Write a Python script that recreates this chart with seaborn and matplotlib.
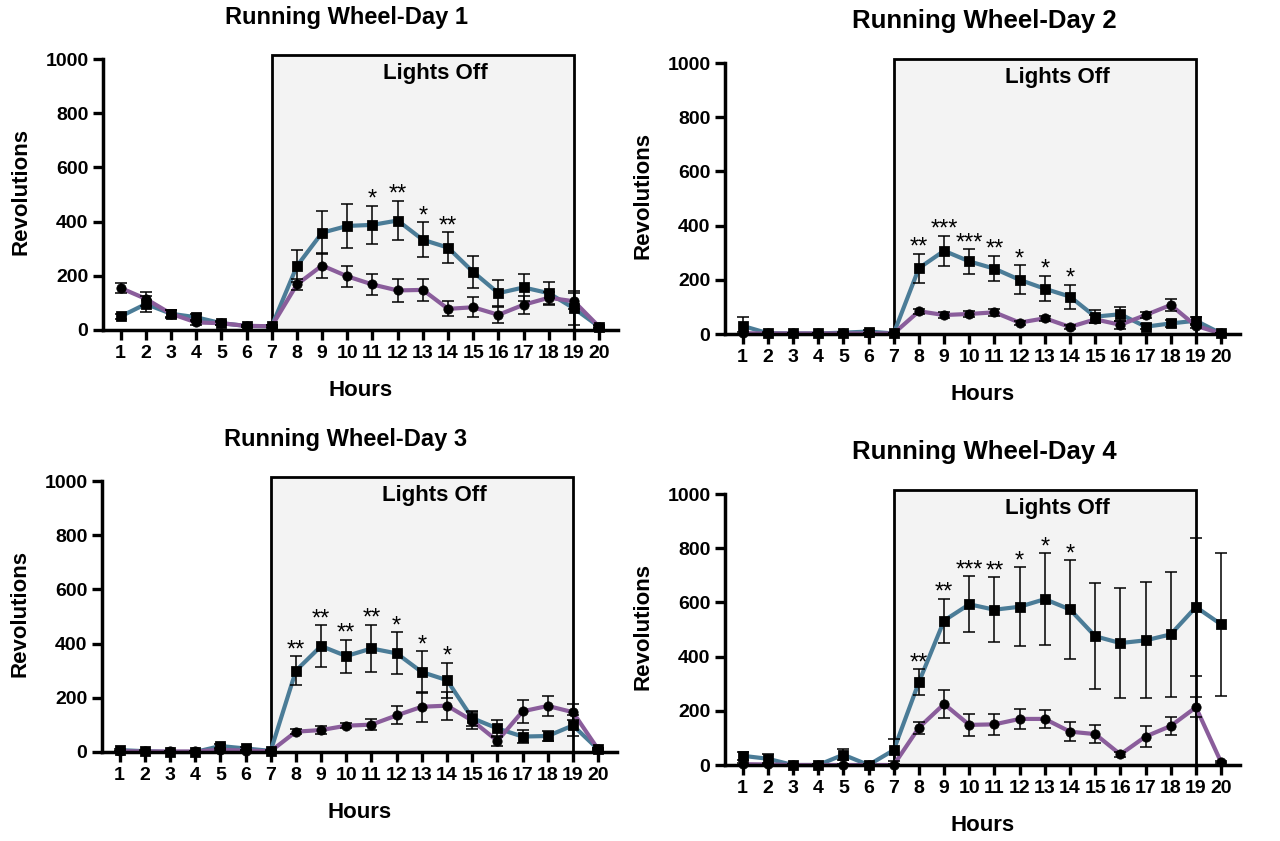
import matplotlib
matplotlib.use("Agg")
import matplotlib.pyplot as plt
import seaborn as sns
from matplotlib.patches import Rectangle

# ------------------------------
# Data (mean and SEM per hour)
# ------------------------------
hours = list(range(1, 21))

# Day 1
day1_sq = [50, 96, 60, 47, 25, 15, 14, 236, 359, 384, 388, 404, 333, 304, 214, 136, 157, 136, 80, 12]
day1_sq_err = [8, 28, 15, 12, 8, 5, 5, 58, 80, 80, 70, 73, 64, 56, 59, 48, 49, 42, 63, 5]
day1_ci = [155, 115, 60, 28, 25, 15, 14, 168, 238, 198, 168, 146, 148, 78, 84, 56, 93, 119, 106, 12]
day1_ci_err = [20, 26, 12, 8, 6, 4, 4, 20, 47, 38, 39, 42, 42, 28, 37, 30, 33, 23, 30, 4]
day1_star_hours = [11, 12, 13, 14]
day1_stars = ["*", "**", "*", "**"]

# Day 2
day2_sq = [30, 3, 2, 2, 5, 9, 2, 243, 307, 268, 241, 200, 167, 138, 64, 73, 27, 39, 49, 2]
day2_sq_err = [34, 4, 3, 3, 4, 5, 3, 53, 55, 45, 47, 54, 47, 44, 25, 25, 10, 12, 15, 2]
day2_ci = [3, 2, 2, 2, 2, 2, 2, 84, 70, 74, 80, 42, 58, 26, 54, 34, 70, 107, 30, 2]
day2_ci_err = [3, 2, 2, 2, 2, 2, 2, 10, 10, 10, 12, 7, 10, 6, 15, 15, 12, 22, 8, 2]
day2_star_hours = [8, 9, 10, 11, 12, 13, 14]
day2_stars = ["**", "***", "***", "**", "*", "*", "*"]

# Day 3
day3_sq = [7, 3, 0, 0, 22, 13, 4, 300, 391, 354, 382, 364, 295, 265, 125, 87, 57, 59, 98, 10]
day3_sq_err = [4, 3, 2, 2, 8, 6, 3, 53, 77, 61, 88, 77, 76, 65, 28, 30, 25, 18, 40, 4]
day3_ci = [3, 2, 2, 2, 8, 5, 3, 75, 81, 97, 101, 135, 167, 171, 116, 41, 150, 170, 147, 10]
day3_ci_err = [2, 2, 2, 2, 4, 3, 2, 10, 14, 10, 20, 33, 55, 52, 30, 18, 42, 38, 30, 4]
day3_star_hours = [8, 9, 10, 11, 12, 13, 14]
day3_stars = ["**", "**", "**", "**", "*", "*", "*"]

# Day 4
day4_sq = [34, 23, 0, 0, 38, 0, 55, 306, 533, 593, 573, 584, 612, 574, 475, 450, 460, 482, 583, 519]
day4_sq_err = [15, 17, 3, 3, 20, 3, 40, 48, 81, 104, 119, 145, 169, 182, 195, 202, 214, 231, 255, 263]
day4_ci = [3, 2, 0, 0, 0, 0, 0, 138, 225, 148, 150, 170, 170, 123, 114, 39, 105, 144, 213, 10]
day4_ci_err = [3, 3, 2, 2, 2, 2, 2, 22, 50, 40, 40, 36, 34, 36, 32, 10, 40, 32, 37, 4]
day4_star_hours = [8, 9, 10, 11, 12, 13, 14]
day4_stars = ["**", "**", "***", "**", "*", "*", "*"]

titles = ["Running Wheel-Day 1", "Running Wheel-Day 2", "Running Wheel-Day 3", "Running Wheel-Day 4"]
lights_on_off = (7, 19)

panels = [
    (day1_sq, day1_sq_err, day1_ci, day1_ci_err, day1_star_hours, day1_stars),
    (day2_sq, day2_sq_err, day2_ci, day2_ci_err, day2_star_hours, day2_stars),
    (day3_sq, day3_sq_err, day3_ci, day3_ci_err, day3_star_hours, day3_stars),
    (day4_sq, day4_sq_err, day4_ci, day4_ci_err, day4_star_hours, day4_stars),
]

# ------------------------------
# Style
# ------------------------------
sns.set_style("ticks")
plt.rcParams["font.family"] = ["Liberation Sans", "DejaVu Sans"]
plt.rcParams["text.color"] = "black"
plt.rcParams["axes.labelcolor"] = "black"
plt.rcParams["xtick.color"] = "black"
plt.rcParams["ytick.color"] = "black"

BLUE = "#4b7c97"
PURPLE = "#8a5d9b"

fig = plt.figure(figsize=(12.8, 8.41), dpi=100)

# pixel layout: left spine x, y of the zero line
layout = [(103, 330), (725, 334), (102, 752), (725, 765)]
title_x = [0.472, 0.504, 0.472, 0.504]
title_size = [17, 18.5, 17, 18.5]

for i, (sq, sq_err, ci, ci_err, star_hours, stars) in enumerate(panels):
    left, y0 = layout[i]
    ax = fig.add_axes([left / 1280, (841 - y0) / 841, 515 / 1280, 276.4 / 841])
    ax.set_xlim(0.3, 20.75)
    ax.set_ylim(0, 1020)

    # lights off box
    ax.add_patch(Rectangle((lights_on_off[0], 0), lights_on_off[1] - lights_on_off[0], 1015,
                           facecolor="#f3f3f3", edgecolor="black", lw=2, zorder=0, clip_on=False))
    ax.text(13.5, 948, "Lights Off", ha="center", va="center", fontsize=16, fontweight="bold")

    sns.lineplot(x=hours, y=sq, color=BLUE, lw=3, ax=ax, zorder=2, clip_on=False)
    sns.lineplot(x=hours, y=ci, color=PURPLE, lw=3, ax=ax, zorder=2, clip_on=False)
    ax.errorbar(hours, sq, yerr=sq_err, fmt="none", ecolor="black", elinewidth=1.1,
                capsize=4.5, capthick=1.1, zorder=3)
    ax.errorbar(hours, ci, yerr=ci_err, fmt="none", ecolor="black", elinewidth=1.1,
                capsize=4.5, capthick=1.1, zorder=3)
    sns.scatterplot(x=hours, y=sq, marker="s", s=48, color="black", edgecolor="black",
                    ax=ax, zorder=4, clip_on=False)
    sns.scatterplot(x=hours, y=ci, marker="o", s=45, color="black", edgecolor="black",
                    ax=ax, zorder=4, clip_on=False)

    # significance stars above the upper error bar
    for h, st in zip(star_hours, stars):
        k = h - 1
        ax.text(h, sq[k] + sq_err[k], st, ha="center", va="baseline", fontsize=17)

    ax.set_xticks(hours)
    ax.set_yticks(range(0, 1001, 200))
    ax.tick_params(labelsize=14, length=7, width=2.4, pad=3.5, color="black", labelcolor="black")
    for lab in ax.get_xticklabels() + ax.get_yticklabels():
        lab.set_fontweight("bold")

    sns.despine(ax=ax)
    ax.spines["left"].set_bounds(0, 1000)
    for side in ["left", "bottom"]:
        ax.spines[side].set_linewidth(2.5)
        ax.spines[side].set_color("black")

    ax.set_xlabel("Hours", fontsize=16, fontweight="bold")
    ax.xaxis.set_label_coords(0.5, -0.181)
    ax.set_ylabel("Revolutions", fontsize=16, fontweight="bold")
    ax.yaxis.set_label_coords(-0.138, 0.5)
    t = ax.set_title(titles[i], fontsize=title_size[i], fontweight="bold", pad=21.5)
    t.set_x(title_x[i])

fig.savefig("out.png", dpi=100)
